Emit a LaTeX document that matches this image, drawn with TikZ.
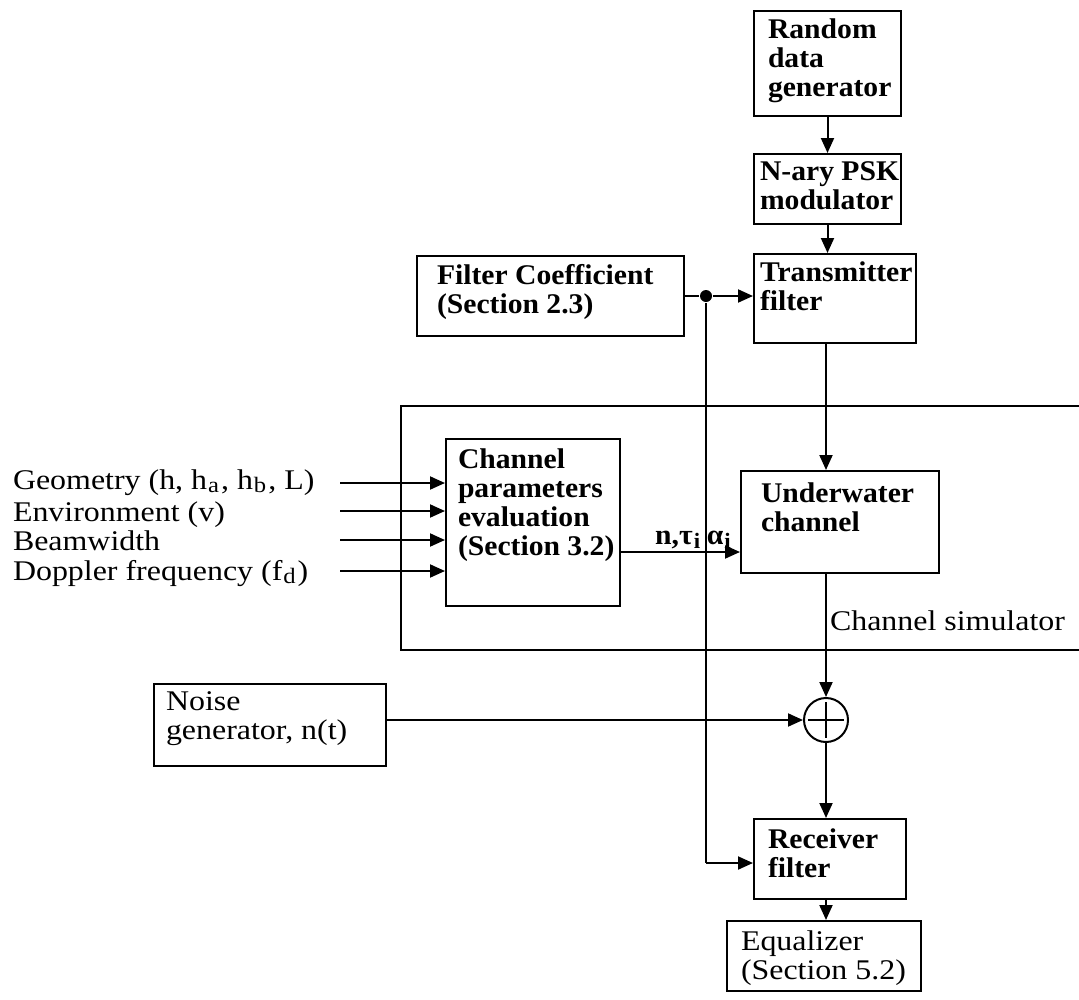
\documentclass[tikz,border=0pt]{standalone}
\usepackage{fontspec}
\setmainfont{Liberation Serif}[FakeStretch=1.12]
\newfontfamily\boxfont{Liberation Serif}[FakeStretch=1.04]
\usetikzlibrary{arrows.meta}
\newcommand\sbx[1]{\kern1pt\raisebox{-0.3ex}{\fontsize{22}{22}\selectfont #1}\kern2pt}
\begin{document}
\begin{tikzpicture}[x=1pt,y=-1pt,
  line width=2pt,
  blk/.style={draw, line width=2pt, inner sep=0pt, anchor=north west},
  txtb/.style={anchor=north west, align=left, inner sep=0pt,
    font=\fontsize{28.5}{29}\selectfont\boxfont\bfseries},
  txtr/.style={anchor=north west, align=left, inner sep=0pt,
    font=\fontsize{28.5}{29}\selectfont},
  inlbl/.style={anchor=base west, inner sep=0pt, text height=21pt, text depth=6pt,
    font=\fontsize{28.5}{29}\selectfont},
  arr/.style={-{Triangle[length=15pt,width=13pt]}, line width=2pt},
  dot/.style={circle, fill, inner sep=0pt, minimum size=12pt}]
\useasboundingbox (0,0) rectangle (1079,999);
\fill[white] (0,0) rectangle (1079,999);

% transmitter chain
\node[blk, minimum width=147pt, minimum height=105pt] (rdg) at (753,10) {};
\node[txtb, xshift=14pt, yshift=-8pt] (rdgt) at (rdg.north west) {Random\\data\\generator};
\node[blk, minimum width=147pt, minimum height=70pt] (psk) at (753,153) {};
\node[txtb, xshift=6pt, yshift=-8pt] (pskt) at (psk.north west) {N-ary PSK\\modulator};
\node[blk, minimum width=162pt, minimum height=89pt] (txf) at (753,253) {};
\node[txtb, xshift=6pt, yshift=-8pt] (txft) at (txf.north west) {Transmitter\\filter};
\node[blk, minimum width=267pt, minimum height=80pt] (fco) at (416,255) {};
\node[txtb, xshift=20pt, yshift=-8pt] (fcot) at (fco.north west) {Filter Coefficient\\(Section 2.3)};

% channel simulator frame (open towards the right)
\draw (1079,406) -- (401,406) -- (401,650) -- (1079,650);
\node[txtr, anchor=base west] (simt) at (829,630) {Channel simulator};

\node[blk, minimum width=174pt, minimum height=167pt] (chp) at (445,438) {};
\node[txtb, xshift=12pt, yshift=-10pt] (chpt) at (chp.north west) {Channel\\parameters\\evaluation\\(Section 3.2)};
\node[blk, minimum width=198pt, minimum height=102pt] (uwc) at (740,470) {};
\node[txtb, xshift=20pt, yshift=-12pt] (uwct) at (uwc.north west) {Underwater\\channel};

% channel inputs
\node[inlbl] (geo) at (12,489) {Geometry (h, h\sbx{a}, h\sbx{b}, L)};
\node[inlbl] (env) at (12,521) {Environment (v)};
\node[inlbl] (bw)  at (12,550) {Beamwidth};
\node[inlbl] (dop) at (12,580) {Doppler frequency (f\sbx{d})};
\coordinate (i1) at (340,483);
\coordinate (i2) at (340,511);
\coordinate (i3) at (340,540);
\coordinate (i4) at (340,571);
\foreach \c in {i1,i2,i3,i4} \draw[arr] (\c) -- (\c -| chp.west);

% receiver side
\node[blk, minimum width=232pt, minimum height=82pt] (nse) at (153,683) {};
\node[txtr, xshift=12pt, yshift=-8pt] (nset) at (nse.north west) {Noise\\generator, n(t)};
\node[circle, draw, line width=2pt, minimum size=44pt, inner sep=0pt] (sum) at (826,720) {};
\draw (sum.center) +(-18,0) -- +(18,0);
\draw (sum.center) +(0,-18) -- +(0,18);
\node[blk, minimum width=152pt, minimum height=80pt] (rxf) at (753,818) {};
\node[txtb, xshift=14pt, yshift=-10pt] (rxft) at (rxf.north west) {Receiver\\filter};
\node[blk, minimum width=194pt, minimum height=70pt] (eqz) at (726,920) {};
\node[txtr, xshift=14pt, yshift=-10pt] (eqzt) at (eqz.north west) {Equalizer\\(Section 5.2)};

% connectors
\draw[arr] (rdg.south) -- (rdg.south |- psk.north);
\draw[arr] (psk.south) -- (psk.south |- txf.north);
\coordinate (fcy) at (683,296);
\node[dot] (junc) at (706,296) {};
\draw (fcy) -- (junc);
\draw[arr] (junc) -- (junc -| txf.west);
\coordinate (fb) at (706,863);
\draw (junc) -- (fb);
\draw[arr] (fb) -- (fb -| rxf.west);
\draw[arr] (txf.south -| sum) -- (sum |- uwc.north);
\coordinate (pout) at (619,552);
\draw[arr] (pout) -- node[pos=0.62, above=2pt, inner sep=0pt, font=\fontsize{28.5}{29}\selectfont\boxfont\bfseries] (tl) {n,τ\sbx{i}\,α\sbx{i}} (pout -| uwc.west);
\draw[arr] (sum |- uwc.south) -- (sum.north);
\draw[arr] (sum.west -| nse.east) -- (sum.west);
\draw[arr] (sum.south) -- (sum |- rxf.north);
\draw[arr] (rxf.south -| sum) -- (sum |- eqz.north);
\end{tikzpicture}
\end{document}
